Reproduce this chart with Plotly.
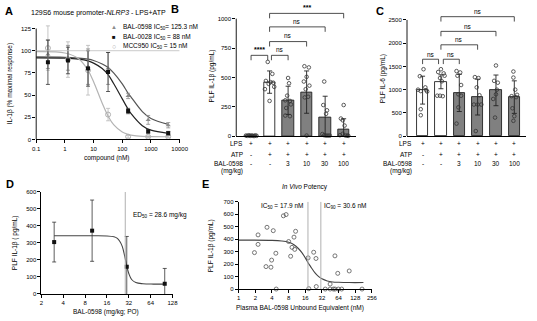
import plotly.graph_objects as go

W, H = 537, 321
FONT = "Liberation Sans, Arial, sans-serif"

# ---------------- Panel A data ----------------
a_conc = [0.256, 1.28, 6.4, 32, 160, 800, 4000]
a_598 = [96, 92, 82, 80, 49, 22, 16]
a_598_err = [16, 14, 20, 18, 3, 5, 3]
a_028 = [87, 89, 80, 76, 32, 9, 7]
a_028_err = [25, 15, 20, 22, 3, 2, 2]
a_mcc = [103, 90, 78, 28, 3, 3, 3]
a_mcc_err = [25, 20, 28, 7, 1.5, 1, 1]
a_fit_x = [0.1, 1, 3, 6.4, 10, 20, 32, 50, 100, 160, 200, 500, 1000, 4000]
a_fit_598 = [93, 92.6, 91.7, 90.5, 89, 85, 81, 75, 62.6, 52, 48, 31.4, 23.6, 17]
a_fit_028 = [92, 91.6, 90.5, 88.5, 86, 80, 73, 63, 45.7, 34, 29.4, 15.5, 10.4, 6.9]
a_fit_mcc = [99, 97.4, 91, 78, 65, 40.8, 26.4, 16.6, 8.3, 5.7, 4.9, 3.3, 3.1, 3.0]
a_xticks = [0.1, 1, 10, 100, 1000, 10000]
a_xticktext = ["0.1", "1", "10", "100", "1000", "10000"]
a_yticks = [0, 25, 50, 75, 100, 125]
a_legend = ["BAL-0598 IC<sub>50</sub>= 125.3 nM", "BAL-0028 IC<sub>50</sub> = 88 nM",
            "MCC950 IC<sub>50</sub> = 15 nM"]

# ---------------- Panel B data ----------------
groups = [0, 1, 2, 3, 4, 5]
b_mean = [5, 460, 305, 375, 160, 60]
b_sd = [4, 95, 120, 180, 180, 88]
b_pts = [
    [5, 3, 8, 2, 6, 4, 1, 7, 3],
    [632, 530, 470, 460, 455, 445, 420, 400, 300],
    [495, 450, 345, 305, 300, 270, 240, 175, 170],
    [595, 585, 505, 465, 430, 400, 335, 330, 5],
    [465, 265, 220, 190, 18, 8, 5, 5, 5],
    [265, 150, 135, 90, 20, 8, 5, 5, 3],
]
b_jit = [
    [-0.28, -0.2, -0.12, -0.05, 0.02, 0.09, 0.16, 0.23, 0.3],
    [-0.1, 0.15, -0.2, 0.05, 0.2, -0.05, 0.25, -0.25, 0.0],
    [0.0, 0.05, -0.05, -0.15, 0.1, 0.15, -0.1, -0.15, 0.1],
    [-0.12, 0.12, 0.0, -0.15, 0.15, -0.05, 0.08, -0.1, 0.0],
    [-0.05, -0.1, 0.1, 0.05, -0.15, -0.05, 0.05, 0.15, 0.25],
    [0.0, -0.15, -0.05, 0.05, -0.05, -0.2, 0.1, 0.2, 0.25],
]
c_mean = [990, 1170, 930, 840, 985, 840]
c_sd = [300, 150, 400, 385, 330, 350]
c_pts = [
    [1440, 1290, 1050, 1000, 990, 970, 960, 580, 450],
    [1440, 1380, 1350, 1300, 1250, 1180, 870, 870, 860],
    [1400, 1370, 1300, 1100, 900, 870, 620, 270],
    [1270, 1250, 1050, 880, 680, 680, 680, 110],
    [1520, 1190, 1150, 1000, 900, 800, 400],
    [1390, 1260, 1000, 890, 860, 840, 600, 430, 330],
]
c_jit = [
    [0.05, -0.15, 0.15, -0.25, 0.2, -0.1, 0.25, -0.1, -0.1],
    [0.0, -0.15, 0.15, 0.2, -0.05, 0.05, -0.2, -0.05, 0.1],
    [-0.15, 0.05, -0.1, 0.1, -0.05, 0.1, -0.05, -0.15],
    [-0.15, 0.05, -0.05, 0.1, -0.2, 0.0, 0.2, -0.1],
    [0.0, -0.1, 0.1, 0.05, 0.0, -0.15, -0.05],
    [-0.05, -0.05, 0.05, 0.15, -0.15, 0.1, -0.1, 0.0, -0.05],
]
row_lps = ["+", "+", "+", "+", "+", "+"]
row_atp = ["-", "+", "+", "+", "+", "+"]
row_bal = ["-", "-", "3", "10", "30", "100"]
b_yticks = [0, 250, 500, 750, 1000]
c_yticks = [0, 500, 1000, 1500, 2000, 2500]
# brackets: (x0, x1, y, label)
b_brackets = [(0, 0.9, 688, "****"), (1.1, 2, 688, "ns"), (1, 3, 805, "ns"),
              (1, 4, 930, "ns"), (1, 5, 1045, "***")]
c_brackets = [(0, 0.87, 1655, "ns"), (1.13, 2, 1655, "ns"), (1, 3, 1965, "ns"),
              (1, 4, 2254, "ns"), (1, 5, 2570, "ns")]

# ---------------- Panel D data ----------------
d_dose = [3, 10, 30, 100]
d_mean = [305, 372, 160, 60]
d_err = [117, 180, 178, 90]
d_fit_x = [3, 10, 16, 20, 22, 24, 26, 28, 30, 32, 35, 40, 50, 70, 100]
d_fit_y = [342, 342, 341, 336, 328, 310, 280, 225, 165, 120, 85, 67, 60, 58, 58]
d_ed50 = 28.6
log2_ticks = [2, 4, 8, 16, 32, 64, 128]

# ---------------- Panel E data ----------------
e_x = [1.93, 2.24, 2.24, 3.25, 3.12, 3.83, 3.94, 4.22, 4.7, 4.77, 6.44, 7.2, 8.0, 8.7,
       9.2, 10.0, 10.3, 10.7, 18.0, 18.5, 22.7, 25.0, 25.3, 36.8, 45, 45, 51.7, 55.3,
       63.5, 72.8, 55, 61.8, 99.7, 170]
e_y = [292, 434, 358, 495, 180, 175, 232, 468, 287, 0, 587, 597, 381, 263,
       334, 416, 318, 463, 250, 3, 295, 245, 20, 0, 40, 0, 0, 0,
       0, 0, 266, 126, 145, 0]
e_fit_x = [1, 4, 6, 8, 10, 12, 14, 16, 18, 20, 24, 28, 32, 40, 50, 64, 100, 180]
e_fit_y = [392, 390, 385, 375, 355, 325, 290, 250, 210, 180, 130, 100, 82, 65, 57, 54, 52, 52]
e_ic50 = 17.9
e_ic90 = 30.6
e_xticks = [1, 2, 4, 8, 16, 32, 64, 128, 256]

# ---------------- build figure ----------------
fig = go.Figure()

def px(x): return x / W
def py(y): return 1 - y / H

GREY_BAR = "#808080"

# A traces
fig.add_trace(go.Scatter(x=a_fit_x, y=a_fit_598, mode="lines", line=dict(color="#555555", width=1.2, shape="spline"),
                         xaxis="x", yaxis="y", showlegend=False, hoverinfo="skip"))
fig.add_trace(go.Scatter(x=a_fit_x, y=a_fit_028, mode="lines", line=dict(color="#222222", width=1.2, shape="spline"),
                         xaxis="x", yaxis="y", showlegend=False))
fig.add_trace(go.Scatter(x=a_fit_x, y=a_fit_mcc, mode="lines", line=dict(color="#b3b3b3", width=1.2, shape="spline"),
                         xaxis="x", yaxis="y", showlegend=False))
fig.add_trace(go.Scatter(x=a_conc, y=a_mcc, mode="markers", cliponaxis=False,
                         marker=dict(symbol="circle-open", size=5, color="#b0b0b0", line=dict(width=1)),
                         error_y=dict(type="data", array=a_mcc_err, color="#b8b8b8", thickness=0.8, width=2),
                         xaxis="x", yaxis="y", showlegend=False))
fig.add_trace(go.Scatter(x=a_conc, y=a_598, mode="markers", cliponaxis=False,
                         marker=dict(symbol="triangle-up", size=4.5, color="#8c8c8c"),
                         error_y=dict(type="data", array=a_598_err, color="#8c8c8c", thickness=0.8, width=2),
                         xaxis="x", yaxis="y", showlegend=False))
fig.add_trace(go.Scatter(x=a_conc, y=a_028, mode="markers", cliponaxis=False,
                         marker=dict(symbol="square", size=4, color="#111111"),
                         error_y=dict(type="data", array=a_028_err, color="#333333", thickness=0.8, width=2),
                         xaxis="x", yaxis="y", showlegend=False))

# B & C traces
for (mean, sd, pts, jit, xa, ya) in [(b_mean, b_sd, b_pts, b_jit, "x2", "y2"),
                                    (c_mean, c_sd, c_pts, c_jit, "x3", "y3")]:
    fills = ["white", "white"] + [GREY_BAR] * 4
    fig.add_trace(go.Bar(x=groups, y=mean, width=0.62, xaxis=xa, yaxis=ya,
                         marker=dict(color=fills, line=dict(color="#222222", width=0.9)),
                         error_y=dict(type="data", array=sd, color="#222222", thickness=0.9, width=2.5),
                         showlegend=False))
    for g, vals, off in zip(groups, pts, jit):
        fig.add_trace(go.Scatter(x=[g + o for o in off], y=vals, mode="markers", cliponaxis=False,
                                 marker=dict(symbol="circle-open", size=3.6, color="#333333", line=dict(width=0.8)),
                                 xaxis=xa, yaxis=ya, showlegend=False))

# D traces
fig.add_trace(go.Scatter(x=d_fit_x, y=d_fit_y, mode="lines", line=dict(color="#444444", width=1.1, shape="spline"),
                         xaxis="x4", yaxis="y4", showlegend=False))
fig.add_trace(go.Scatter(x=d_dose, y=d_mean, mode="markers", cliponaxis=False,
                         marker=dict(symbol="square", size=4, color="#111111"),
                         error_y=dict(type="data", array=d_err, color="#333333", thickness=0.8, width=2),
                         xaxis="x4", yaxis="y4", showlegend=False))

# E traces
fig.add_trace(go.Scatter(x=e_fit_x, y=e_fit_y, mode="lines", line=dict(color="#444444", width=1.1, shape="spline"),
                         xaxis="x5", yaxis="y5", showlegend=False))
fig.add_trace(go.Scatter(x=e_x, y=e_y, mode="markers", cliponaxis=False,
                         marker=dict(symbol="circle-open", size=4, color="#555555", line=dict(width=0.8)),
                         xaxis="x5", yaxis="y5", showlegend=False))

tickfont = dict(size=6, color="black", family=FONT)
common = dict(showgrid=False, zeroline=False, linecolor="black", linewidth=0.9, ticks="outside",
              ticklen=3, tickwidth=0.9, tickcolor="black", tickfont=tickfont, fixedrange=True)

fig.update_layout(
    width=W, height=H, margin=dict(l=0, r=0, t=0, b=0),
    paper_bgcolor="white", plot_bgcolor="white",
    font=dict(family=FONT, size=6.5, color="black"),
    showlegend=False, bargap=0,
    xaxis=dict(domain=[px(33), px(180)], type="log", range=[-1, 4], anchor="y",
               tickvals=a_xticks, ticktext=a_xticktext, showline=True, **common),
    yaxis=dict(domain=[py(139), py(19.7)], range=[0, 132], anchor="x",
               tickvals=a_yticks, showline=False, **common),
    xaxis2=dict(domain=[px(238), px(361)], range=[-0.8, 5.68], anchor="y2",
                showticklabels=False, showline=True, **{**common, "ticks": ""}),
    yaxis2=dict(domain=[py(135.7), py(1.6)], range=[0, 1120], anchor="x2",
                tickvals=b_yticks, showline=False, **common),
    xaxis3=dict(domain=[px(413), px(535)], range=[-0.85, 5.64], anchor="y3",
                showticklabels=False, showline=True, **{**common, "ticks": ""}),
    yaxis3=dict(domain=[py(135.7), py(2.1)], range=[0, 2820], anchor="x3",
                tickvals=c_yticks, showline=False, **common),
    xaxis4=dict(domain=[px(38.3), px(173)], type="log", range=[0.30103, 2.10721 + 0.004], anchor="y4",
                tickvals=log2_ticks, ticktext=[str(t) for t in log2_ticks], showline=True, **common),
    yaxis4=dict(domain=[py(296.5), py(192.5)], range=[0, 600], anchor="x4",
                dtick=100, showline=True, **common),
    xaxis5=dict(domain=[px(240.5), px(377)], type="log", range=[0, 2.40824], anchor="y5",
                tickvals=e_xticks, ticktext=[str(t) for t in e_xticks], showline=True, **common),
    yaxis5=dict(domain=[py(291.5), py(202.5)], range=[0, 700], anchor="x5",
                dtick=100, showline=True, **common),
)

shapes = []
# y axis lines for A, B, C
shapes.append(dict(type="line", xref="paper", yref="y", x0=px(33), x1=px(33), y0=0, y1=125,
                   line=dict(color="black", width=0.9)))
shapes.append(dict(type="line", xref="paper", yref="y2", x0=px(238), x1=px(238), y0=0, y1=1000,
                   line=dict(color="black", width=0.9)))
shapes.append(dict(type="line", xref="paper", yref="y3", x0=px(413), x1=px(413), y0=0, y1=2500,
                   line=dict(color="black", width=0.9)))
# 100% line in A
shapes.append(dict(type="line", xref="x", yref="y", x0=0.1, x1=10000, y0=100, y1=100,
                   line=dict(color="#bdbdbd", width=0.8)))
# ED50 / IC lines
shapes.append(dict(type="line", xref="x4", yref="y4", x0=d_ed50, x1=d_ed50, y0=0, y1=600,
                   line=dict(color="#b0b0b0", width=1)))
for v in (e_ic50, e_ic90):
    shapes.append(dict(type="line", xref="x5", yref="y5", x0=v, x1=v, y0=0, y1=700,
                       line=dict(color="#b0b0b0", width=1)))

annotations = []
def ann(text, x, y, size=6.5, xanchor="center", yanchor="middle", xref="paper", yref="paper",
        angle=0, color="black"):
    annotations.append(dict(text=text, x=x, y=y, xref=xref, yref=yref, showarrow=False,
                            xanchor=xanchor, yanchor=yanchor, textangle=angle,
                            font=dict(size=size, color=color, family=FONT)))

# brackets
for (brs, xa, ya, tick, tgap) in [(b_brackets, "x2", "y2", 42, 48), (c_brackets, "x3", "y3", 105, 105)]:
    for (x0, x1, y, lab) in brs:
        shapes.append(dict(type="path", xref=xa, yref=ya,
                           path=f"M {x0},{y - tick} L {x0},{y} L {x1},{y} L {x1},{y - tick}",
                           line=dict(color="#222222", width=0.8)))
        ann(("<b>" + lab + "</b>") if "*" in lab else lab, (x0 + x1) / 2, y + tgap,
            size=6.5 if "*" not in lab else 7, xref=xa, yref=ya)

# panel letters
for letter, x, y in [("A", 5, 8), ("B", 175, 6), ("C", 385, 8), ("D", 6, 184), ("E", 206, 184)]:
    ann(f"<b>{letter}</b>", px(x), py(y), size=11)

# titles & axis labels
ann("129S6 mouse promoter-<i>NLRP3</i> - LPS+ATP", px(97), py(10), size=7)
ann("compound (nM)", px(106), py(158.3))
ann("IL-1β (% maximal response)", px(7), py(82), angle=-90)
ann("PLF IL-1β (pg/mL)", px(213), py(74), angle=-90)
ann("PLF IL-6 (pg/mL)", px(388), py(77), angle=-90)
ann("PLF IL-1β ( pg/mL)", px(12), py(244), angle=-90)
ann("BAL-0598 (mg/kg; PO)", px(105), py(315))
ann("PLF IL-1β (pg/mL)", px(213), py(247), angle=-90)
ann("Plasma BAL-0598 Unbound Equivalent (nM)", px(303), py(310.7))
ann("<i>In Vivo</i> Potency", px(308), py(188))
ann("ED<sub>50</sub> = 28.6 mg/kg", px(130), py(216), xanchor="left")
ann("IC<sub>50</sub> = 17.9 nM", px(308), py(207), xanchor="right")
ann("IC<sub>90</sub> = 30.6 nM", px(326), py(207), xanchor="left")

# legend of A (manual)
for (sym, col), text, y in zip([("▲", "#8c8c8c"), ("■", "#111111"), ("○", "#a8a8a8")], a_legend, [24, 34.3, 44.3]):
    ann(sym, px(113), py(y), size=6 if sym != "○" else 7, color=col)
    ann(text, px(120), py(y), xanchor="left")

# treatment rows under B and C
for xa, lab_x in [("x2", 246.5), ("x3", 420)]:
    ann("LPS", px(lab_x), py(143.3), xanchor="right")
    ann("ATP", px(lab_x), py(154.3), xanchor="right")
    ann("BAL-0598", px(lab_x), py(163.5), xanchor="right")
    ann("(mg/kg)", px(lab_x), py(171.7), xanchor="right")
    for g in groups:
        ann(row_lps[g], g, py(143.3), xref=xa)
        ann(row_atp[g], g, py(154.3), xref=xa)
        ann(row_bal[g], g, py(163.5), xref=xa)

fig.update_layout(shapes=shapes, annotations=annotations)
fig.write_html("out.html")
